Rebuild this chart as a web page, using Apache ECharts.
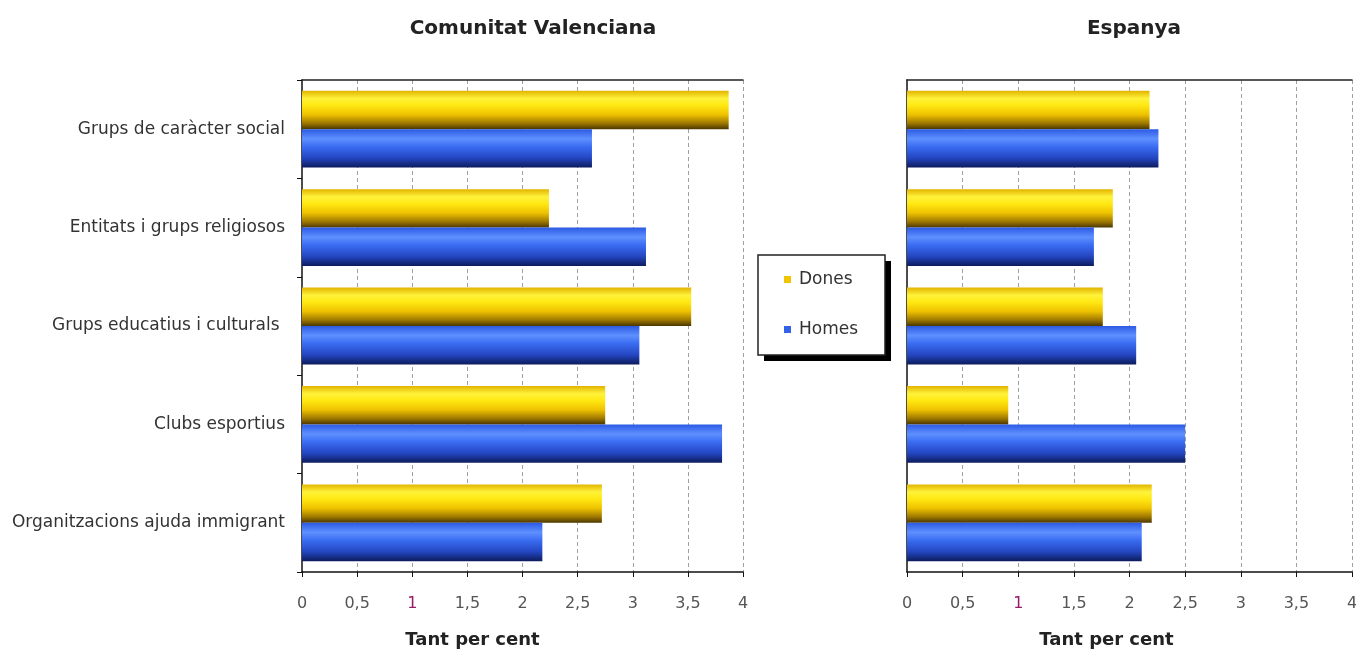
<!DOCTYPE html>
<html>
<head>
<meta charset="utf-8">
<script src="https://cdn.jsdelivr.net/npm/echarts@6/dist/echarts.min.js"></script>
<style>
  html, body { margin: 0; padding: 0; background: #fff; }
  #chart { width: 1356px; height: 651px; }
</style>
</head>
<body>
<div id="chart"></div>
<script>
const categories = [
  "Grups de caràcter social",
  "Entitats i grups religiosos",
  "Grups educatius i culturals ",
  "Clubs esportius",
  "Organitzacions ajuda immigrant",
];
const valencianaDones = [3.87, 2.24, 3.53, 2.75, 2.72];
const valencianaHomes = [2.63, 3.12, 3.06, 3.81, 2.18];
const espanyaDones = [2.18, 1.85, 1.76, 0.91, 2.20];
const espanyaHomes = [2.26, 1.68, 2.06, 2.50, 2.11];
const ticks = [0, 0.5, 1, 1.5, 2, 2.5, 3, 3.5, 4];

const chart = echarts.init(document.getElementById("chart"));

const yellow = new echarts.graphic.LinearGradient(0, 0, 0, 1, [
  { offset: 0, color: "#e2b400" },
  { offset: 0.2, color: "#fff23a" },
  { offset: 0.38, color: "#ffe812" },
  { offset: 0.62, color: "#eec200" },
  { offset: 0.85, color: "#9c7600" },
  { offset: 1, color: "#4a3600" },
]);
const blue = new echarts.graphic.LinearGradient(0, 0, 0, 1, [
  { offset: 0, color: "#2c5ae4" },
  { offset: 0.25, color: "#5e90ff" },
  { offset: 0.45, color: "#3b6df2" },
  { offset: 0.75, color: "#2446c2" },
  { offset: 1, color: "#0d1c5c" },
]);

const font = "DejaVu Sans";
const splitColors = ticks.map((t, i) => (i === ticks.length - 1 ? "#222" : "#a0a0a0"));

function bottomAxis(gridIndex, padRight) {
  return {
    type: "value",
    gridIndex: gridIndex,
    min: 0,
    max: 4,
    interval: 0.5,
    position: "bottom",
    name: "Tant per cent",
    nameLocation: "middle",
    nameGap: 59,
    nameTextStyle: {
      fontFamily: font, fontWeight: "bold", fontSize: 18, color: "#222",
      padding: [0, padRight, 0, 0],
    },
    axisLine: { show: true, lineStyle: { color: "#111", width: 1.5 } },
    axisTick: { show: true, length: 5, lineStyle: { color: "#111" } },
    axisLabel: {
      margin: 24,
      fontFamily: font,
      fontSize: 16,
      color: "#555",
      formatter: (v) => (v === 1 ? "{p|1}" : String(v).replace(".", ",")),
      rich: { p: { color: "#9a1a6a", fontFamily: font, fontSize: 16 } },
    },
    splitLine: {
      show: true,
      showMinLine: false,
      lineStyle: { color: splitColors, type: [4, 3], width: 1 },
    },
  };
}

function topAxis(gridIndex) {
  return {
    type: "value",
    gridIndex: gridIndex,
    min: 0,
    max: 4,
    position: "top",
    axisLine: { show: true, onZero: false, lineStyle: { color: "#222", width: 1.5 } },
    axisTick: { show: false },
    axisLabel: { show: false },
    splitLine: { show: false },
  };
}

function catAxis(gridIndex, showLabels) {
  return {
    type: "category",
    gridIndex: gridIndex,
    data: categories,
    inverse: true,
    axisLine: { show: true, lineStyle: { color: "#111", width: 1.5 } },
    axisTick: { show: showLabels, length: 5, lineStyle: { color: "#111" } },
    axisLabel: {
      show: showLabels,
      margin: 17,
      fontFamily: font,
      fontSize: 17,
      color: "#333",
    },
  };
}

function barSeries(name, color, data, idx) {
  return {
    name: name,
    type: "bar",
    xAxisIndex: idx * 2,
    yAxisIndex: idx,
    data: data,
    barGap: "0%",
    barCategoryGap: "22%",
    itemStyle: { color: color },
  };
}

const option = {
  backgroundColor: "#fff",
  animation: false,
  title: [
    {
      text: "Comunitat Valenciana",
      left: 528, top: 14, textAlign: "center",
      textStyle: { fontFamily: font, fontWeight: "bold", fontSize: 20, color: "#222" },
    },
    {
      text: "Espanya",
      left: 1129, top: 14, textAlign: "center",
      textStyle: { fontFamily: font, fontWeight: "bold", fontSize: 20, color: "#222" },
    },
  ],
  // legend frame with its hard black drop shadow
  graphic: [
    {
      type: "rect", z: 1,
      shape: { x: 764, y: 261, width: 127, height: 100 },
      style: { fill: "#000" },
    },
    {
      type: "rect", z: 2,
      shape: { x: 758, y: 255, width: 127, height: 100 },
      style: { fill: "#fff", stroke: "#222", lineWidth: 1.5 },
    },
  ],
  legend: {
    orient: "vertical",
    left: 784,
    top: 271,
    z: 20,
    padding: 0,
    itemGap: 33,
    itemWidth: 7,
    itemHeight: 7,
    icon: "rect",
    textStyle: { fontFamily: font, fontSize: 17, color: "#333", padding: [0, 0, 0, 3] },
    data: [
      { name: "Dones", itemStyle: { color: "#f0c400" } },
      { name: "Homes", itemStyle: { color: "#3462e8" } },
    ],
  },
  grid: [
    { left: 302, right: 613, top: 80, bottom: 79, outerBoundsMode: "none" },
    { left: 907, right: 4, top: 80, bottom: 79, outerBoundsMode: "none" },
  ],
  xAxis: [bottomAxis(0, 100), topAxis(0), bottomAxis(1, 46), topAxis(1)],
  yAxis: [catAxis(0, true), catAxis(1, false)],
  series: [
    barSeries("Dones", yellow, valencianaDones, 0),
    barSeries("Homes", blue, valencianaHomes, 0),
    barSeries("Dones", yellow, espanyaDones, 1),
    barSeries("Homes", blue, espanyaHomes, 1),
  ],
};

chart.setOption(option);
</script>
</body>
</html>
